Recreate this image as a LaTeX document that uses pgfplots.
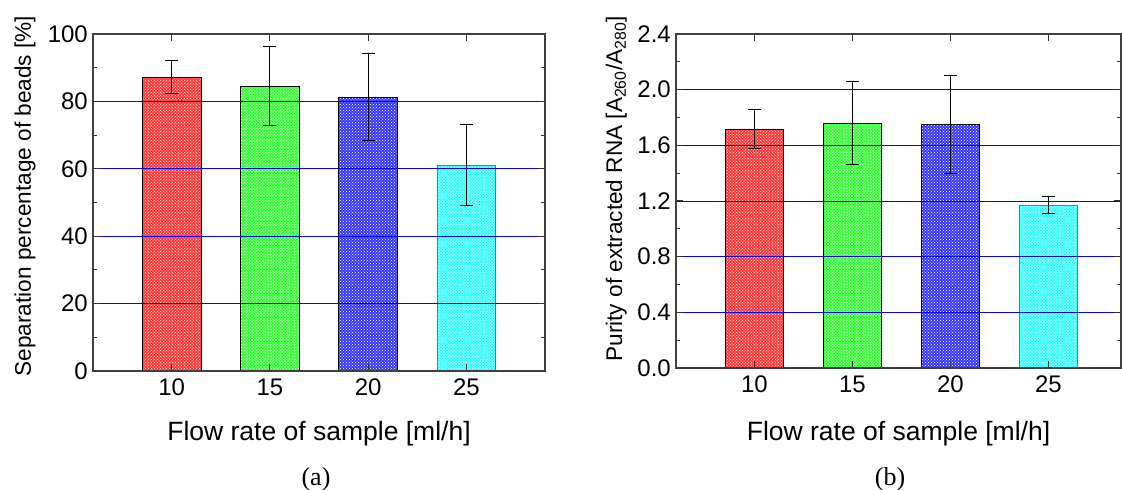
\documentclass[border=0pt]{standalone}
\usepackage{fontspec}
\setmainfont{Liberation Sans}
\newfontfamily\capfont{Liberation Serif}
\usepackage{pgfplots}
\pgfplotsset{compat=1.18}
\usetikzlibrary{patterns}

\definecolor{cR}{RGB}{255,0,0}
\definecolor{cG}{RGB}{0,255,0}
\definecolor{cB}{RGB}{0,0,255}
\definecolor{cC}{RGB}{0,255,255}
\definecolor{gridblue}{RGB}{0,0,255}

\newcommand{\tickf}{\fontsize{24}{28}\selectfont}
\newcommand{\xlabf}{\fontsize{26.5}{30}\selectfont}
\newcommand{\ylabf}{\fontsize{22.6}{26}\selectfont}

\pgfplotsset{
  panel/.style={
    scale only axis, axis on top,
    xmin=6, xmax=29,
    xtick={10,15,20,25},
    tick align=inside,
    major tick length=7pt, minor tick length=4pt,
    minor y tick num=1,
    tick style={line width=1pt, black!80},
    axis line style={line width=1.2pt, black!75},
    ymajorgrids, grid style={gridblue, line width=0.9pt},
    tick label style={font=\tickf, inner sep=2pt},
    xticklabel style={yshift=-6pt},
    yticklabel style={xshift=-3pt},
    /pgf/number format/assume math mode=true,
  },
  bars/.style={ybar, bar width=3, bar shift=0pt, draw=black, line width=0.8pt,
    fill=#1!78!white, postaction={pattern=crosshatch dots, pattern color=white},
    error bars/y dir=both, error bars/y explicit,
    error bars/error mark=|,
    error bars/error bar style={black, line width=1pt},
    error bars/error mark options={black, line width=1pt, mark size=6.5pt}},
}

\begin{document}
\begin{tikzpicture}
% panel (a)
\begin{axis}[panel,
  at={(93pt,119pt)}, anchor=south west,
  width=452pt, height=337pt,
  ymin=0, ymax=100, ytick={0,20,40,60,80,100},
  xlabel={Flow rate of sample [ml/h]},
  ylabel={Separation percentage of beads [\%]},
  every axis x label/.style={font=\xlabf, at={(axis description cs:0.5,0)}, anchor=base, yshift=-69pt},
  every axis y label/.style={font=\ylabf, at={([xshift=-62pt]axis description cs:0,0.519)}, rotate=90, anchor=base},
]
\addplot[bars=cR] coordinates {(10,87.2) +- (0,4.9)};
\addplot[bars=cG] coordinates {(15,84.5) +- (0,11.8)};
\addplot[bars=cB] coordinates {(20,81.3) +- (0,12.8)};
\addplot[bars=cC, draw=black!55] coordinates {(25,61.1) +- (0,11.9)};
\end{axis}
% panel (b)
\begin{axis}[panel,
  at={(676pt,122pt)}, anchor=south west,
  width=445pt, height=334pt,
  xmax=28.7,
  ymin=0, ymax=2.4, ytick={0,0.4,0.8,1.2,1.6,2.0,2.4},
  yticklabel style={/pgf/number format/.cd, fixed, fixed zerofill, precision=1},
  xlabel={Flow rate of sample [ml/h]},
  ylabel={Purity of extracted RNA [A\textsubscript{260}/A\textsubscript{280}]},
  every axis x label/.style={font=\xlabf, at={(axis description cs:0.5,0)}, anchor=base, yshift=-72pt},
  every axis y label/.style={font=\ylabf, at={([xshift=-54pt]axis description cs:0,0.536)}, rotate=90, anchor=base},
]
\addplot[bars=cR] coordinates {(10,1.715) +- (0,0.14)};
\addplot[bars=cG] coordinates {(15,1.76) +- (0,0.30)};
\addplot[bars=cB] coordinates {(20,1.75) +- (0,0.35)};
\addplot[bars=cC, draw=black!55] coordinates {(25,1.17) +- (0,0.06)};
\end{axis}
\node[font=\capfont\fontsize{26}{30}\selectfont, anchor=base] at (316pt,5pt) {(a)};
\node[font=\capfont\fontsize{26}{30}\selectfont, anchor=base] at (890pt,5pt) {(b)};
\pgfresetboundingbox
\path (0,0) rectangle (1122pt,490pt);
\end{tikzpicture}
\end{document}
